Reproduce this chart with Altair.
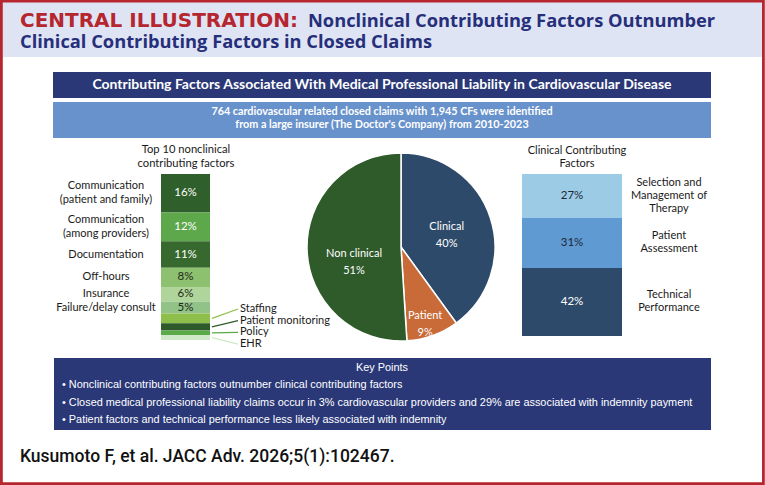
import math

import altair as alt
import pandas as pd

# ---------------- data ----------------
nonclinical_factors = [
    "Communication\n(patient and family)",
    "Communication\n(among providers)",
    "Documentation",
    "Off-hours",
    "Insurance",
    "Failure/delay consult",
    "Staffing",
    "Patient monitoring",
    "Policy",
    "EHR",
]
nonclinical_pct = [16, 12, 11, 8, 6, 5, 4, 3, 2, 2]

claim_groups = ["Clinical", "Patient", "Non clinical"]
claim_pct = [40, 9, 51]

clinical_factors = [
    "Selection and\nManagement of\nTherapy",
    "Patient\nAssessment",
    "Technical\nPerformance",
]
clinical_pct = [27, 31, 42]

title_lead = "CENTRAL ILLUSTRATION:"
title_lines = [
    "Nonclinical Contributing Factors Outnumber",
    "Clinical Contributing Factors in Closed Claims",
]
banner = "Contributing Factors Associated With Medical Professional Liability in Cardiovascular Disease"
sub_banner = [
    "764 cardiovascular related closed claims with 1,945 CFs were identified",
    "from a large insurer (The Doctor's Company) from 2010-2023",
]
nonclinical_heading = ["Top 10 nonclinical", "contributing factors"]
clinical_heading = ["Clinical Contributing", "Factors"]
key_title = "Key Points"
key_points = [
    "Nonclinical contributing factors outnumber clinical contributing factors",
    "Closed medical professional liability claims occur in 3% cardiovascular providers and 29% are associated with indemnity payment",
    "Patient factors and technical performance less likely associated with indemnity",
]
citation = "Kusumoto F, et al. JACC Adv. 2026;5(1):102467."

# ---------------- styles ----------------
NC_FILL = ["#2f5f2a", "#5ea84c", "#37692f", "#8dc06f", "#afd59a",
           "#91c287", "#8ebf4b", "#2e5b29", "#5aaa48", "#cfe9c8"]
NC_INK = ["#ffffff", "#ffffff", "#ffffff", "#1f2a1c", "#1f2a1c",
          "#1f2a1c", "#1f2a1c", "#1f2a1c", "#1f2a1c", "#1f2a1c"]
PIE_FILL = ["#2e4a6a", "#c96b39", "#2f5a2a"]
CL_FILL = ["#9ccbe6", "#5f9ad3", "#2e4a6a"]
CL_INK = ["#1d2836", "#1d2836", "#ffffff"]

NAVY = "#2a3877"
SKY = "#6892cc"
RED = "#b5262e"
INDIGO = "#262f7a"
INK = "#1a1a1a"
HEADER_BG = "#dfe4f5"

BODY = "Lato"
SANS = "Liberation Sans"
FS = 11          # body text size of the panel labels

W, H = 765, 485

# layout (pixels)
NC_X0, NC_X1, NC_Y0, NC_Y1 = 161, 210, 174, 340
NC_LABEL_X = 106
NC_LH = 13.5
INLINE = 6                      # segments labelled beside the bar
CALL_X0, CALL_X1 = 212, 238     # leader lines of the small segments
CALL_Y0, CALL_STEP = 309, 11.7
PIE_CX, PIE_CY, PIE_R = 401, 247, 94
CL_X0, CL_X1, CL_Y0, CL_Y1 = 522, 622, 174, 336
CL_LABEL_X = 669
CL_LH = 13

LINES = "length(split(datum.factor, '\\n'))"


def one(values):
    return alt.Chart(alt.Data(values=[values]))


def text_at(s, x, y, **kw):
    return one({"t": s}).mark_text(**kw).encode(
        x=alt.value(x), y=alt.value(y), text="t:N"
    )


def box(x0, y0, x1, y1, **kw):
    return one({}).mark_rect(**kw).encode(
        x=alt.value(x0), x2=alt.value(x1), y=alt.value(y0), y2=alt.value(y1)
    )


# ---------------- frame & headings ----------------
header_bg = box(3, 2, 762, 57, fill=HEADER_BG)
head_red = text_at(title_lead, 20, 26.5, font="DejaVu Sans", fontWeight="bold",
                   fontSize=20, color=RED, align="left", baseline="alphabetic")
head_1 = text_at(title_lines[0], 308, 26.5, font="Open Sans", fontWeight="bold",
                 fontSize=18.3, color=INDIGO, align="left", baseline="alphabetic")
head_2 = text_at(title_lines[1], 20, 48, font="Open Sans", fontWeight="bold",
                 fontSize=18.3, color=INDIGO, align="left", baseline="alphabetic")

banner_box = box(53, 72, 711, 98, fill=NAVY)
banner_txt = text_at(banner, 382, 85, font=BODY, fontWeight="bold",
                     fontSize=14, color="white")
sub_box = box(53, 102, 711, 138, fill=SKY)
sub_txt = text_at("\n".join(sub_banner), 382, 112, font=BODY, fontWeight="bold",
                  fontSize=10.8, lineBreak="\n", lineHeight=12.5, color="white")

nc_head = text_at("\n".join(nonclinical_heading), 186, 150, font=BODY,
                  fontSize=11.2, lineBreak="\n", lineHeight=14, color=INK)
cl_head = text_at("\n".join(clinical_heading), 577, 151, font=BODY,
                  fontSize=11, lineBreak="\n", lineHeight=13, color=INK)

# ---------------- nonclinical stacked bar ----------------
nc = pd.DataFrame({"factor": nonclinical_factors, "pct": nonclinical_pct,
                   "idx": list(range(len(nonclinical_factors)))})
nc_total = sum(nonclinical_pct)
px_per_unit = (NC_Y1 - NC_Y0) / nc_total
nc_y = alt.Scale(domain=[0, nc_total], range=[NC_Y0, NC_Y1], nice=False, zero=False)
nc_fill = alt.Scale(domain=nonclinical_factors, range=NC_FILL)
nc_ink = alt.Scale(domain=nonclinical_factors, range=NC_INK)

nc_base = (
    alt.Chart(nc)
    .transform_stack(stack="pct", as_=["y0", "y1"], groupby=[],
                     sort=[alt.SortField("idx", order="ascending")])
    .transform_calculate(
        mid="(datum.y0 + datum.y1) / 2",
        pct_label="datum.pct + '%'",
        # first line of a wrapped label sits half a block above the middle
        name_y=f"(datum.y0 + datum.y1) / 2 - ({LINES} - 1) * {NC_LH / 2} / {px_per_unit}",
    )
)

nc_bars = nc_base.mark_rect().encode(
    x=alt.value(NC_X0), x2=alt.value(NC_X1),
    y=alt.Y("y0:Q", scale=nc_y, axis=None), y2="y1:Q",
    color=alt.Color("factor:N", scale=nc_fill, legend=None),
)
nc_inline = nc_base.transform_filter(f"datum.idx < {INLINE}")
nc_pct = nc_inline.mark_text(font=BODY, fontSize=FS + 0.5).encode(
    x=alt.value((NC_X0 + NC_X1) / 2),
    y=alt.Y("mid:Q", scale=nc_y, axis=None),
    text="pct_label:N",
    color=alt.Color("factor:N", scale=nc_ink, legend=None),
)
nc_names = nc_inline.mark_text(font=BODY, fontSize=FS, lineBreak="\n",
                               lineHeight=NC_LH, color=INK).encode(
    x=alt.value(NC_LABEL_X),
    y=alt.Y("name_y:Q", scale=nc_y, axis=None),
    text="factor:N",
)

nc_call = nc_base.transform_filter(f"datum.idx >= {INLINE}").transform_calculate(
    ly=f"({CALL_Y0} + (datum.idx - {INLINE}) * {CALL_STEP} - {NC_Y0}) / {px_per_unit}"
)
nc_leaders = nc_call.mark_rule(strokeWidth=1.3).encode(
    x=alt.value(CALL_X0), x2=alt.value(CALL_X1),
    y=alt.Y("mid:Q", scale=nc_y, axis=None), y2="ly:Q",
    color=alt.Color("factor:N", scale=nc_fill, legend=None),
)
nc_call_names = nc_call.mark_text(font=BODY, fontSize=FS, align="left",
                                  color=INK).encode(
    x=alt.value(CALL_X1 + 2),
    y=alt.Y("ly:Q", scale=nc_y, axis=None),
    text="factor:N",
)

# ---------------- pie of claim groups ----------------
pie = pd.DataFrame({"group": claim_groups, "pct": claim_pct,
                    "idx": list(range(len(claim_groups)))})
theta_sc = alt.Scale(domain=[0, sum(claim_pct)], range=[0, 2 * math.pi])
pie_base = (
    alt.Chart(pie)
    .transform_stack(stack="pct", as_=["t0", "t1"], groupby=[],
                     sort=[alt.SortField("idx", order="ascending")])
    .transform_calculate(tmid="(datum.t0 + datum.t1) / 2",
                         lab="datum.group + '\\n' + datum.pct + '%'")
)
pie_arcs = pie_base.mark_arc(radius=PIE_R, stroke="white", strokeWidth=1.5).encode(
    x=alt.value(PIE_CX), y=alt.value(PIE_CY),
    theta=alt.Theta("t0:Q", scale=theta_sc), theta2="t1:Q",
    color=alt.Color("group:N", scale=alt.Scale(domain=claim_groups, range=PIE_FILL),
                    legend=None),
)
# radial distance and nudges of each slice label (first line of two)
PIE_LABEL_POS = {"Clinical": (48, 0, -5), "Patient": (80, -3, -6),
                 "Non clinical": (48, 1, 5.5)}
pie_labels = [
    pie_base.transform_filter(alt.datum.group == g).mark_text(
        radius=r, dx=dx, dy=dy, font=BODY, fontSize=FS, lineBreak="\n",
        lineHeight=16.5, color="white",
    ).encode(
        x=alt.value(PIE_CX), y=alt.value(PIE_CY),
        theta=alt.Theta("tmid:Q", scale=theta_sc), text="lab:N",
    )
    for g, (r, dx, dy) in PIE_LABEL_POS.items()
]

# ---------------- clinical stacked bar ----------------
cl = pd.DataFrame({"factor": clinical_factors, "pct": clinical_pct,
                   "idx": list(range(len(clinical_factors)))})
cl_total = sum(clinical_pct)
cl_px_per_unit = (CL_Y1 - CL_Y0) / cl_total
cl_y = alt.Scale(domain=[0, cl_total], range=[CL_Y0, CL_Y1], nice=False, zero=False)
cl_base = (
    alt.Chart(cl)
    .transform_stack(stack="pct", as_=["y0", "y1"], groupby=[],
                     sort=[alt.SortField("idx", order="ascending")])
    .transform_calculate(
        mid="(datum.y0 + datum.y1) / 2",
        pct_label="datum.pct + '%'",
        name_y=f"(datum.y0 + datum.y1) / 2 - ({LINES} - 1) * {CL_LH / 2} / {cl_px_per_unit}",
    )
)
cl_bars = cl_base.mark_rect().encode(
    x=alt.value(CL_X0), x2=alt.value(CL_X1),
    y=alt.Y("y0:Q", scale=cl_y, axis=None), y2="y1:Q",
    color=alt.Color("factor:N", scale=alt.Scale(domain=clinical_factors, range=CL_FILL),
                    legend=None),
)
cl_pct = cl_base.mark_text(font=BODY, fontSize=FS + 0.5).encode(
    x=alt.value((CL_X0 + CL_X1) / 2),
    y=alt.Y("mid:Q", scale=cl_y, axis=None),
    text="pct_label:N",
    color=alt.Color("factor:N", scale=alt.Scale(domain=clinical_factors, range=CL_INK),
                    legend=None),
)
cl_names = cl_base.mark_text(font=BODY, fontSize=FS, lineBreak="\n",
                             lineHeight=CL_LH, color=INK).encode(
    x=alt.value(CL_LABEL_X),
    y=alt.Y("name_y:Q", scale=cl_y, axis=None),
    text="factor:N",
)

# ---------------- key points & citation ----------------
key_box = box(54, 358, 711, 430, fill=NAVY)
key_head = text_at(key_title, 382, 368, font=SANS, fontSize=10.9, color="white")
key_body = text_at("\n".join("\u2022 " + p for p in key_points), 62, 385,
                   font=SANS, fontSize=10.9, lineBreak="\n", lineHeight=17.6,
                   color="white", align="left", baseline="middle")
cite = text_at(citation, 20, 457, font="Roboto", fontWeight=500, fontSize=17.5,
               color="#111111", align="left", baseline="middle")

frame = box(1.4, 1.2, 763.4, 483.6, fill=None, stroke=RED, strokeWidth=2.8)

chart = (
    alt.layer(
        header_bg, head_red, head_1, head_2,
        banner_box, banner_txt, sub_box, sub_txt,
        nc_head, cl_head,
        nc_bars, nc_pct, nc_names, nc_leaders, nc_call_names,
        pie_arcs, *pie_labels,
        cl_bars, cl_pct, cl_names,
        key_box, key_head, key_body, cite,
        frame,
    )
    .resolve_scale(x="independent", y="independent", color="independent",
                   theta="independent")
    .properties(width=W, height=H, padding=0,
                autosize=alt.AutoSizeParams(type="none"), background="white")
    .configure_view(stroke=None)
)

chart.save("out.html", embed_options={"renderer": "svg", "actions": False})
